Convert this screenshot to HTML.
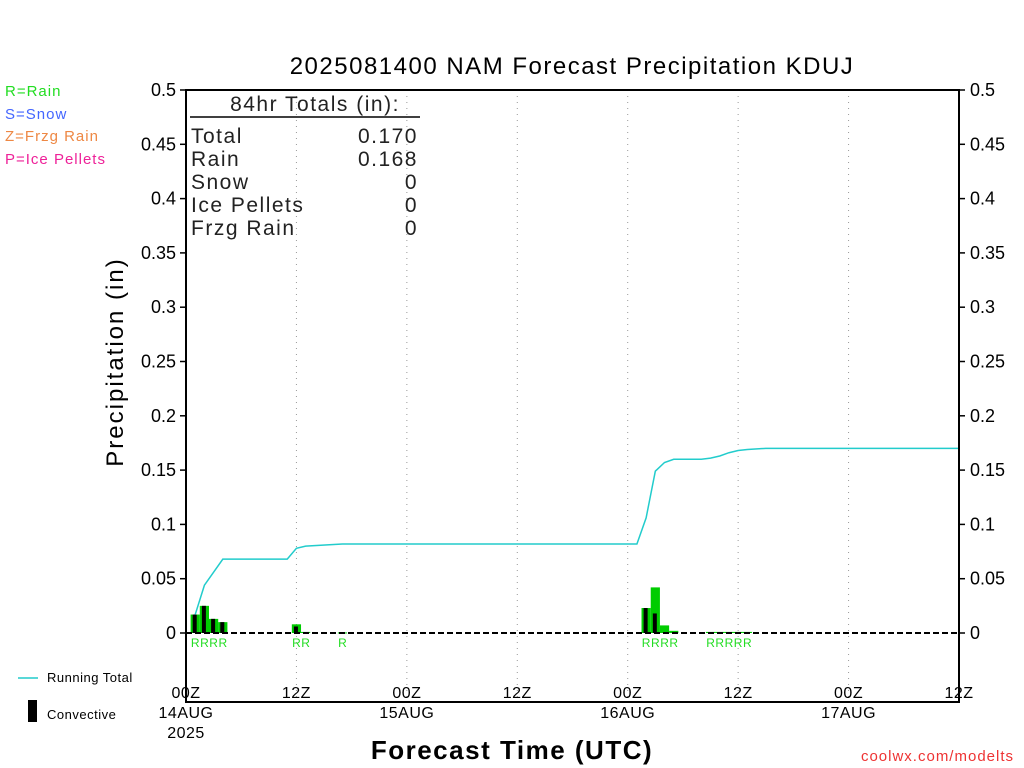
<!DOCTYPE html>
<html><head><meta charset="utf-8"><style>
body{margin:0;background:#fff;}
svg{display:block;font-family:"Liberation Sans",sans-serif;}
</style></head><body>
<svg id="c" width="1024" height="768" viewBox="0 0 1024 768">
<text x="572" y="74" font-size="24" text-anchor="middle" fill="#000" style="letter-spacing:1.5px">2025081400 NAM Forecast Precipitation KDUJ</text>
<g font-size="15" style="letter-spacing:1px">
<text x="5" y="96" fill="#22dd22">R=Rain</text>
<text x="5" y="119" fill="#4466ff">S=Snow</text>
<text x="5" y="141" fill="#ee8844">Z=Frzg Rain</text>
<text x="5" y="164" fill="#ee2299">P=Ice Pellets</text>
</g>
<g id="grid"></g>
<g id="bars"></g>
<line x1="186" y1="633" x2="959" y2="633" stroke="#000" stroke-width="2" stroke-dasharray="6,3"/>
<g id="line"></g>
<g id="plabels"></g>
<rect x="186" y="90" width="773" height="612" fill="none" stroke="#000" stroke-width="2"/>
<g id="yticks" font-size="18"></g>
<g id="xticks" font-size="16" style="letter-spacing:0.5px"></g>
<g font-size="21" fill="#222" style="letter-spacing:1.5px">
<text x="315" y="111" text-anchor="middle">84hr Totals (in):</text>
<line x1="190" y1="117" x2="420" y2="117" stroke="#000" stroke-width="1.5"/>
<text x="191" y="143">Total</text><text x="418" y="143" text-anchor="end">0.170</text>
<text x="191" y="166">Rain</text><text x="418" y="166" text-anchor="end">0.168</text>
<text x="191" y="189">Snow</text><text x="418" y="189" text-anchor="end">0</text>
<text x="191" y="212">Ice Pellets</text><text x="418" y="212" text-anchor="end">0</text>
<text x="191" y="235">Frzg Rain</text><text x="418" y="235" text-anchor="end">0</text>
</g>
<text transform="translate(123,362) rotate(-90)" font-size="24" text-anchor="middle" style="letter-spacing:2px">Precipitation (in)</text>
<text x="512" y="759" font-size="26" font-weight="bold" text-anchor="middle" style="letter-spacing:1.5px">Forecast Time (UTC)</text>
<text x="1014" y="761" font-size="15" fill="#ee3333" text-anchor="end" style="letter-spacing:1px">coolwx.com/modelts</text>
<line x1="18" y1="678" x2="38" y2="678" stroke="#22cccc" stroke-width="1.5"/>
<text x="47" y="682" font-size="13" style="letter-spacing:0.5px">Running Total</text>
<rect x="28" y="700" width="9" height="22" fill="#000"/>
<text x="47" y="719" font-size="13" style="letter-spacing:0.5px">Convective</text>
</svg>
<script>
const barHours=[1,2,3,4,12,13,17,50,51,52,53,57,58,59,60,61];
const barTotal=[0.017,0.025,0.013,0.010,0.008,0.001,0.0005,0.023,0.042,0.007,0.002,0.001,0.001,0.001,0.001,0.001];
const barConv=[0.017,0.025,0.013,0.010,0.006,0.0005,0.0003,0.023,0.018,0,0,0,0,0,0,0];
const runHours=[1,2,3,4,11,12,13,17,49,50,51,52,53,56,57,58,59,60,61,63,84];
const runTotal=[0.017,0.044,0.056,0.068,0.068,0.078,0.080,0.082,0.082,0.106,0.149,0.157,0.160,0.160,0.161,0.163,0.166,0.168,0.169,0.170,0.170];
const yTicks=[0,0.05,0.1,0.15,0.2,0.25,0.3,0.35,0.4,0.45,0.5];
const yTickLabels=["0","0.05","0.1","0.15","0.2","0.25","0.3","0.35","0.4","0.45","0.5"];
const xTicks=[0,12,24,36,48,60,72,84];
const xTickLabels=[["00Z","14AUG","2025"],["12Z"],["00Z","15AUG"],["12Z"],["00Z","16AUG"],["12Z"],["00Z","17AUG"],["12Z"]];
const ptypeHours=[1,2,3,4,12,13,17,50,51,52,53,57,58,59,60,61];
const ptypeLabels=["R","R","R","R","R","R","R","R","R","R","R","R","R","R","R","R"];
const NS="http://www.w3.org/2000/svg";
const x=h=>186+h*(773/84);
const y=v=>633-v*1086;
function mk(tag,attrs,parent,txt){const e=document.createElementNS(NS,tag);for(const k in attrs)e.setAttribute(k,attrs[k]);if(txt!==undefined)e.textContent=txt;document.getElementById(parent).appendChild(e);return e;}
xTicks.forEach((h,i)=>{
  if(i>0&&i<xTicks.length-1){const g=mk('line',{x1:x(h),x2:x(h),y1:90,y2:702,stroke:'#999','stroke-dasharray':'1,5'},'grid');
  
  }
  xTickLabels[i].forEach((t,j)=>{const e=mk('text',{x:x(h),y:698+j*20,'text-anchor':'middle'},'xticks',t);
  
  });
});
yTicks.forEach((v,i)=>{
  const t=mk('line',{x1:180,x2:186,y1:y(v),y2:y(v),stroke:'#000','stroke-width':1.5},'yticks');
  
  
  const t2=mk('line',{x1:959,x2:965,y1:y(v),y2:y(v),stroke:'#000','stroke-width':1.5},'yticks');
  
  
  const l=mk('text',{x:176,y:y(v)+6,'text-anchor':'end'},'yticks',yTickLabels[i]);
  
  
  const r=mk('text',{x:970,y:y(v)+6},'yticks',yTickLabels[i]);
  
  
});
const bw=773/84;
barHours.forEach((h,i)=>{
  const b=mk('rect',{x:x(h)-bw/2,y:y(barTotal[i]),width:bw,height:Math.max(633-y(barTotal[i]),1),fill:'#00cc00'},'bars');
  
  
  if(barConv[i]>0){const c=mk('rect',{x:x(h)-2.5,y:y(barConv[i]),width:4,height:Math.max(633-y(barConv[i]),1),fill:'#000'},'bars');
  
  }
});
const pts=runHours.map((h,i)=>x(h)+','+y(runTotal[i])).join(' ');
const pl=mk('polyline',{points:pts,fill:'none',stroke:'#22cccc','stroke-width':1.5},'line');


ptypeHours.forEach((h,i)=>{const t=mk('text',{x:x(h),y:647,'text-anchor':'middle','font-size':12,fill:'#22dd22'},'plabels',ptypeLabels[i]);

});
</script>
</body></html>
